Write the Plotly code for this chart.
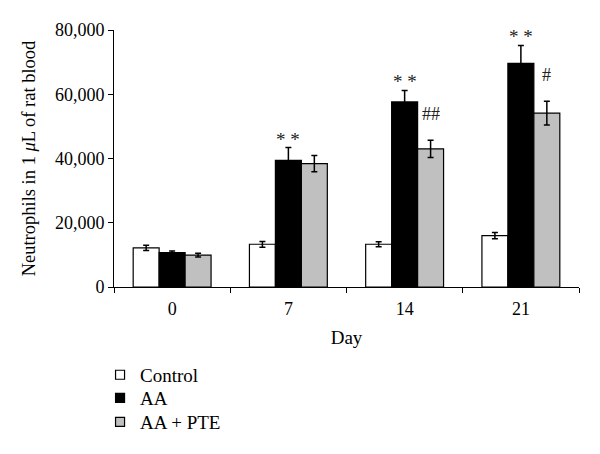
import plotly.graph_objects as go

days = ["0", "7", "14", "21"]
control = [12200, 13300, 13300, 16000]
control_err = [800, 900, 800, 1000]
aa = [10700, 39400, 57600, 69600]
aa_err = [500, 4000, 3600, 5600]
pte = [9900, 38400, 43000, 54100]
pte_err = [600, 2500, 2700, 3700]
aa_marks = ["", "* *", "* *", "* *"]
pte_marks = ["", "", "##", "#"]
y_ticks = [0, 20000, 40000, 60000, 80000]
y_ticklabels = ["0", "20,000", "40,000", "60,000", "80,000"]
series_names = ["Control", "AA", "AA + PTE"]
series_colors = ["white", "black", "#c0c0c0"]

FONT = "Liberation Serif"

def err(vals):
    return dict(type="data", array=vals, visible=True, color="black", thickness=1.5, width=3)

fig = go.Figure()
for name, vals, errs, col in zip(series_names, [control, aa, pte], [control_err, aa_err, pte_err], series_colors):
    fig.add_trace(go.Bar(name=name, x=days, y=vals, error_y=err(errs), showlegend=False,
                         marker=dict(color=col, line=dict(color="black", width=1.2))))
# legend-only entries with small square symbols, one legend box each
legend_ids = ["legend", "legend2", "legend3"]
legend_y = [-0.342, -0.432, -0.525]
for name, col, lid in zip(series_names, series_colors, legend_ids):
    fig.add_trace(go.Scatter(name=name, x=[days[0]], y=[None], mode="markers", legend=lid,
                             marker=dict(symbol="square", size=9, color=col,
                                         line=dict(color="black", width=1.2))))

# annotations: category axis -> use category index positions
for i, (v, e, m) in enumerate(zip(aa, aa_err, aa_marks)):
    if m:
        fig.add_annotation(x=i, y=v + e, text=m, showarrow=False, yanchor="bottom", yshift=-4,
                           font=dict(family=FONT, size=19, color="#222"))
for i, (v, e, m) in enumerate(zip(pte, pte_err, pte_marks)):
    if m:
        fig.add_annotation(x=i, y=v + e, text=m, showarrow=False, yanchor="bottom", yshift=14,
                           xshift=26, font=dict(family=FONT, size=18, color="#222"))

legend_common = dict(x=-0.03, xanchor="left", yanchor="middle", orientation="v",
                     font=dict(family=FONT, size=19), itemwidth=30,
                     bgcolor="rgba(0,0,0,0)")

fig.update_layout(
    width=600, height=454,
    margin=dict(l=106, r=29, t=22, b=175),
    paper_bgcolor="white", plot_bgcolor="white",
    barmode="group", bargap=0.33, bargroupgap=0,
    font=dict(family=FONT, size=18, color="black"),
    showlegend=True,
    legend=dict(y=legend_y[0], **legend_common),
    legend2=dict(y=legend_y[1], **legend_common),
    legend3=dict(y=legend_y[2], **legend_common),
    xaxis=dict(type="category", range=[-0.5, 3.5], automargin=False,
               title=dict(text="Day", font=dict(family=FONT, size=19), standoff=13),
               showline=True, linecolor="black", linewidth=1, ticks="outside",
               tickson="boundaries", ticklen=5, tickcolor="black", showgrid=False,
               ticklabelstandoff=5,
               tickfont=dict(family=FONT, size=18)),
    yaxis=dict(title=dict(text="Neutrophils in 1 <i>μ</i>L of rat blood", font=dict(family=FONT, size=18.5), standoff=14),
               range=[0, 80000], tickvals=y_ticks, ticktext=y_ticklabels, automargin=False,
               showline=True, linecolor="black", linewidth=1, ticks="outside",
               ticklen=5, tickcolor="black", showgrid=False, zeroline=False,
               tickfont=dict(family=FONT, size=18)),
)

fig.write_html("out.html")
